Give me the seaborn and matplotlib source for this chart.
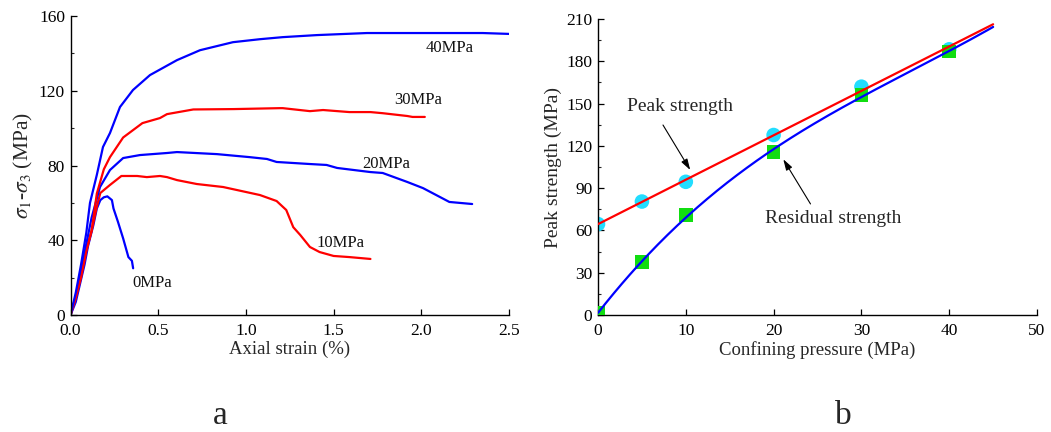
import numpy as np
import pandas as pd
import matplotlib
matplotlib.use("Agg")
import matplotlib.pyplot as plt
from matplotlib.ticker import MultipleLocator
import seaborn as sns

# ---------------- data: panel a (stress-strain curves) ----------------
strain_0 = [0.0, 0.03, 0.05, 0.08, 0.10, 0.13, 0.15, 0.17, 0.19, 0.21, 0.236, 0.245, 0.27, 0.29, 0.30, 0.33, 0.35, 0.357]
stress_0 = [0.0, 7.0, 15.0, 27.0, 37.0, 48.0, 57.0, 61.5, 63.0, 63.5, 61.5, 57.0, 50.0, 44.0, 41.0, 31.0, 29.0, 25.0]

strain_10 = [0.0, 0.03, 0.06, 0.09, 0.12, 0.15, 0.17, 0.225, 0.29, 0.38, 0.435, 0.51, 0.55, 0.607, 0.72, 0.87, 1.08, 1.175, 1.23, 1.27, 1.31, 1.365, 1.42, 1.50, 1.59, 1.65, 1.71]
stress_10 = [0.0, 10.0, 22.0, 35.0, 45.0, 58.0, 65.3, 69.6, 74.4, 74.4, 73.8, 74.4, 73.8, 72.2, 70.1, 68.5, 64.2, 61.0, 56.2, 47.0, 42.8, 36.4, 33.7, 31.6, 31.0, 30.5, 30.0]

strain_20 = [0.0, 0.03, 0.06, 0.09, 0.12, 0.168, 0.225, 0.30, 0.396, 0.55, 0.607, 0.835, 1.02, 1.12, 1.175, 1.365, 1.46, 1.52, 1.71, 1.78, 1.92, 2.01, 2.16, 2.29]
stress_20 = [0.0, 10.0, 24.0, 38.0, 52.0, 68.5, 77.6, 84.0, 85.6, 86.7, 87.2, 86.1, 84.5, 83.5, 81.9, 80.8, 80.3, 78.7, 76.5, 76.0, 71.2, 67.9, 60.5, 59.4]

strain_30 = [0.0, 0.03, 0.06, 0.09, 0.12, 0.15, 0.19, 0.225, 0.30, 0.41, 0.51, 0.55, 0.64, 0.70, 0.93, 1.195, 1.21, 1.365, 1.44, 1.59, 1.71, 1.78, 1.92, 1.95, 2.02]
stress_30 = [0.0, 9.0, 20.0, 34.0, 45.0, 65.0, 78.0, 84.5, 95.0, 102.7, 105.4, 107.5, 109.0, 110.0, 110.2, 110.7, 110.7, 109.1, 109.7, 108.6, 108.6, 108.0, 106.5, 106.0, 106.0]

strain_40 = [0.0, 0.03, 0.06, 0.09, 0.111, 0.15, 0.185, 0.225, 0.282, 0.356, 0.453, 0.607, 0.738, 0.926, 1.08, 1.21, 1.405, 1.69, 2.16, 2.35, 2.51]
stress_40 = [0.0, 12.0, 27.0, 44.0, 60.0, 75.0, 89.9, 97.4, 111.3, 120.4, 128.4, 136.4, 141.7, 146.0, 147.6, 148.7, 149.8, 150.9, 150.9, 150.9, 150.4]

curve_labels = ["0MPa", "10MPa", "20MPa", "30MPa", "40MPa"]
label_x = [0.465, 1.54, 1.80, 1.98, 2.16]
label_y = [17.0, 38.5, 80.8, 115.0, 143.0]

# ---------------- data: panel b (strength vs confining pressure) ----------------
confining = [0, 5, 10, 20, 30, 40]
peak_strength = [64.5, 80.5, 94.5, 127.7, 162.0, 188.5]
residual_strength = [1.4, 37.5, 71.0, 115.5, 156.0, 187.0]

# ---------------- style ----------------
sns.set_theme(style="ticks")
plt.rcParams["font.family"] = ["Liberation Serif", "DejaVu Serif"]
plt.rcParams["mathtext.fontset"] = "stix"
plt.rcParams["axes.linewidth"] = 1.0

fig = plt.figure(figsize=(10.51, 4.32), dpi=100)
axa = fig.add_axes([0.0671, 0.2708, 0.4172, 0.6921])
axb = fig.add_axes([0.569, 0.2708, 0.4177, 0.6852])

# ---------------- panel a ----------------
rows = []
for name, xs, ys in [("0MPa", strain_0, stress_0), ("10MPa", strain_10, stress_10),
                     ("20MPa", strain_20, stress_20), ("30MPa", strain_30, stress_30),
                     ("40MPa", strain_40, stress_40)]:
    for i, (x, y) in enumerate(zip(xs, ys)):
        rows.append({"curve": name, "strain": x, "stress": y, "order": i})
dfa = pd.DataFrame(rows)
pal = {"0MPa": "#0000FF", "10MPa": "#FF0000", "20MPa": "#0000FF", "30MPa": "#FF0000", "40MPa": "#0000FF"}
sns.lineplot(data=dfa, x="strain", y="stress", hue="curve", units="curve", estimator=None,
             sort=False, palette=pal, linewidth=1.6, legend=False, ax=axa)
for t, x, y in zip(curve_labels, label_x, label_y):
    axa.text(x, y, t, ha="center", va="center", fontsize=12, color="#111111")

axa.set_xlim(0, 2.5)
axa.set_ylim(0, 160)
axa.xaxis.set_major_locator(MultipleLocator(0.5))
axa.yaxis.set_major_locator(MultipleLocator(40))
axa.yaxis.set_minor_locator(MultipleLocator(20))
axa.xaxis.set_major_formatter(matplotlib.ticker.FormatStrFormatter("%.1f"))
axa.set_xlabel("Axial strain (%)", fontsize=13.5, labelpad=1)
axa.set_ylabel(r"$\sigma_1$-$\sigma_3$ (MPa)", fontsize=15.5, labelpad=3)

# ---------------- panel b ----------------
xfit = np.linspace(0, 45, 200)
p_lin = np.polyfit(confining, peak_strength, 1)
red_fit = np.polyval(p_lin, xfit)
p_cub = np.polyfit(confining, residual_strength, 3)
blue_fit = np.polyval(p_cub, xfit)

dfp = pd.DataFrame({"confining": confining, "peak": peak_strength, "residual": residual_strength})
sns.scatterplot(data=dfp, x="confining", y="peak", marker="o", s=110, color="#22DDFF",
                edgecolor="none", ax=axb, zorder=2)
sns.scatterplot(data=dfp, x="confining", y="residual", marker="s", s=95, color="#11DD11",
                edgecolor="none", ax=axb, zorder=3)
sns.lineplot(x=xfit, y=red_fit, color="#FF0000", linewidth=1.6, ax=axb, zorder=4)
sns.lineplot(x=xfit, y=blue_fit, color="#0000FF", linewidth=1.6, ax=axb, zorder=4)

axb.text(9.3, 147.6, "Peak strength", fontsize=14, ha="center", va="center")
axb.annotate("", xy=(10.5, 102.9), xytext=(7.4, 134.8),
             arrowprops=dict(arrowstyle="-|>,head_length=0.55,head_width=0.17", color="black",
                             lw=0.8, shrinkA=0, shrinkB=0))
axb.text(26.8, 68.8, "Residual strength", fontsize=14, ha="center", va="center")
axb.annotate("", xy=(21.1, 110.5), xytext=(24.2, 78.8),
             arrowprops=dict(arrowstyle="-|>,head_length=0.55,head_width=0.17", color="black",
                             lw=0.8, shrinkA=0, shrinkB=0))

axb.set_xlim(0, 50)
axb.set_ylim(0, 210)
axb.xaxis.set_major_locator(MultipleLocator(10))
axb.yaxis.set_major_locator(MultipleLocator(30))
axb.yaxis.set_minor_locator(MultipleLocator(15))
axb.set_xlabel("Confining pressure (MPa)", fontsize=13.5, labelpad=1)
axb.set_ylabel("Peak strength (MPa)", fontsize=14, labelpad=3)

for ax in (axa, axb):
    sns.despine(ax=ax)
    ax.tick_params(axis="both", which="major", direction="in", length=4, width=0.9,
                   labelsize=12.5, colors="black")
    ax.tick_params(axis="y", which="major", pad=4)
    ax.tick_params(axis="x", which="major", pad=6)
    ax.tick_params(axis="y", which="minor", direction="in", length=2.5, width=0.8)
    for sp in ("left", "bottom"):
        ax.spines[sp].set_color("black")

fig.text(220 / 1051, 1 - 416 / 432, "a", fontsize=24, ha="center", va="center")
fig.text(843 / 1051, 1 - 416 / 432, "b", fontsize=24, ha="center", va="center")

fig.savefig("out.png", dpi=100)
